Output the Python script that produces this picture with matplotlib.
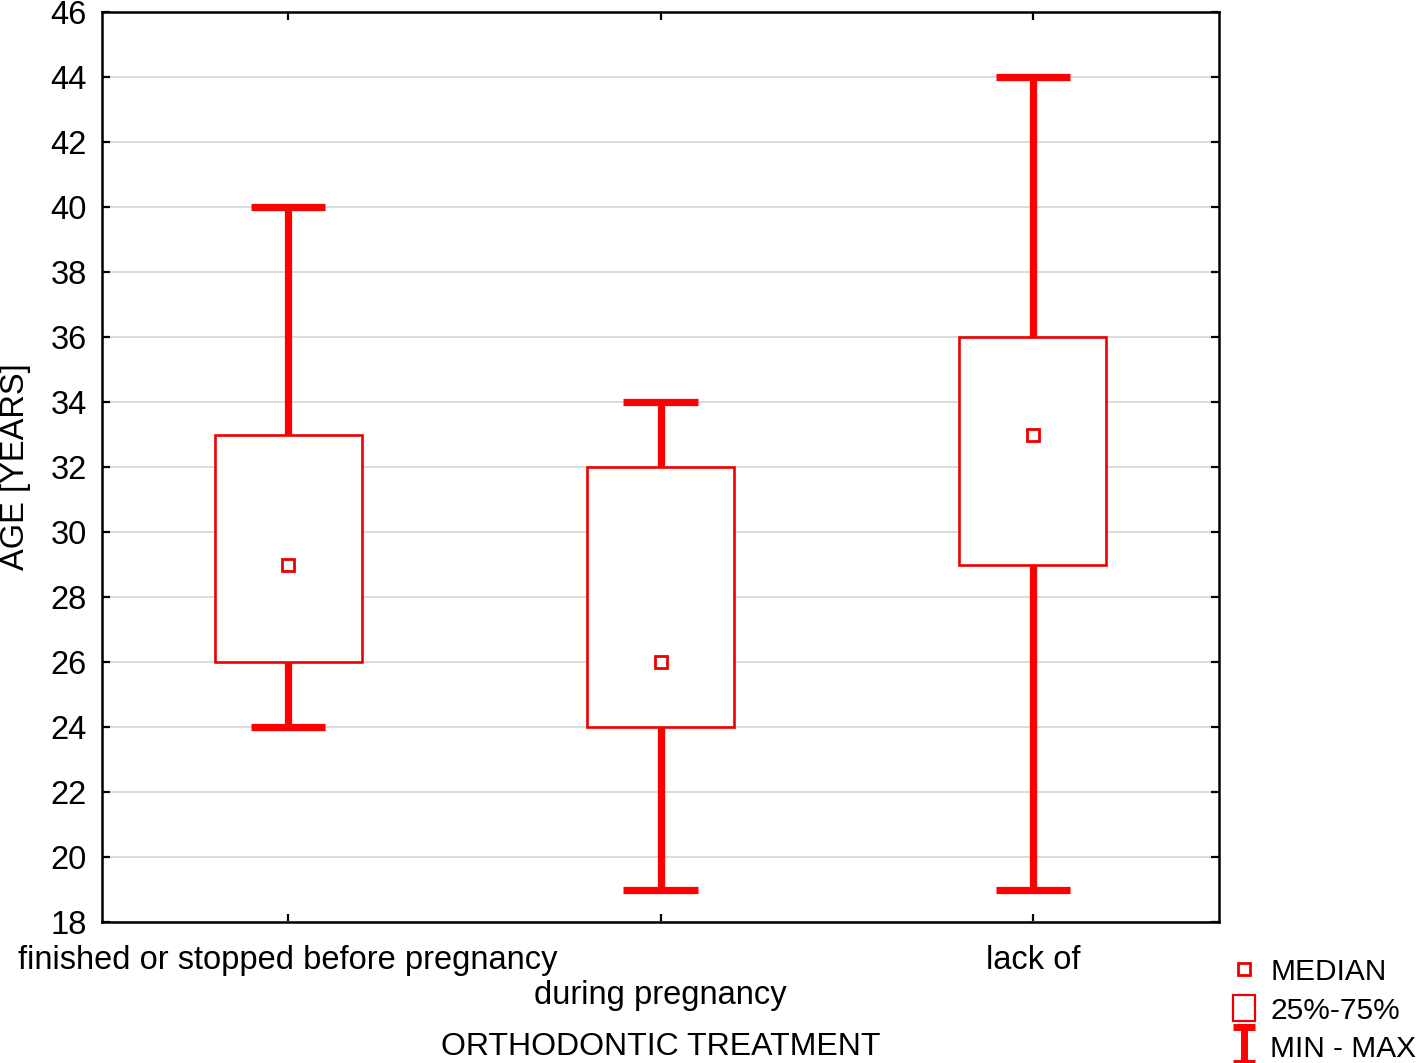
import matplotlib
matplotlib.use("Agg")
import matplotlib.pyplot as plt
from matplotlib.lines import Line2D
from matplotlib.patches import Patch
from matplotlib.path import Path

plt.rcParams['font.family'] = ['Liberation Sans', 'DejaVu Sans']

categories = ["finished or stopped before pregnancy", "during pregnancy", "lack of"]
mins = [24, 19, 19]
q1s = [26, 24, 29]
medians = [29, 26, 33]
q3s = [33, 32, 36]
maxs = [40, 34, 44]
yticks = list(range(18, 47, 2))

FS = 23.5

fig = plt.figure(figsize=(14.17, 10.63), dpi=100)
ax = fig.add_axes([102/1417, 1-922/1063, (1219-102)/1417, (922-12)/1063])

stats = []
for c, mn, a, m, b, mx in zip(categories, mins, q1s, medians, q3s, maxs):
    stats.append(dict(label=c, whislo=mn, q1=a, med=m, q3=b, whishi=mx, fliers=[]))

pos = [1, 2, 3]
ax.bxp(stats, positions=pos, widths=0.394, capwidths=0.2, patch_artist=True,
       showfliers=False,
       boxprops=dict(facecolor='white', edgecolor='#ee0000', linewidth=1.9),
       whiskerprops=dict(color='#ff0000', linewidth=5.2, solid_capstyle='butt'),
       capprops=dict(color='#ff0000', linewidth=5.2, solid_capstyle='butt'),
       medianprops=dict(linewidth=0), zorder=3)
ax.plot(pos, medians, ls='none', marker='s', ms=9, mfc='white', mec='#ee0000', mew=2, zorder=5)

ax.set_xlim(0.5, 3.5)
ax.set_ylim(18, 46)
ax.set_yticks(yticks)
ax.yaxis.grid(True, color='#d9d9d9', linewidth=1.3, zorder=0)
ax.set_axisbelow(True)
ax.set_xticks(pos)
ax.set_xticklabels([categories[0], "\n" + categories[1], categories[2]])
ax.tick_params(axis='both', direction='in', length=6, width=1.6, labelsize=FS,
               top=True, right=True, colors='black')
ax.tick_params(axis='x', pad=16.5)
ax.tick_params(axis='y', pad=11)
for lab in ax.get_xticklabels():
    lab.set_linespacing(1.15)
for s in ax.spines.values():
    s.set_linewidth(1.8)

ax.set_xlabel("ORTHODONTIC TREATMENT", fontsize=23)
ax.xaxis.set_label_coords(0.5, -0.121)
ax.set_ylabel("AGE [YEARS]", fontsize=FS)
ax.yaxis.set_label_coords(-0.064, 0.5)

ivert = [(-0.6, 1), (0.6, 1), (0, 1), (0, -1), (-0.6, -1), (0.6, -1)]
icodes = [Path.MOVETO, Path.LINETO, Path.MOVETO, Path.LINETO, Path.MOVETO, Path.LINETO]
ipath = Path(ivert, icodes)

handles = [
    Line2D([], [], ls='none', marker='s', ms=8, mfc='white', mec='#ee0000', mew=2),
    Patch(facecolor='white', edgecolor='#ee0000', linewidth=1.6),
    Line2D([], [], ls='none', marker=ipath, ms=26, mec='#ff0000', mew=5),
]
fig.legend(handles, ["MEDIAN", "25%-75%", "MIN - MAX"], loc='upper left',
           bbox_to_anchor=(1233/1417, 1-957/1063), frameon=False, fontsize=21.5,
           handlelength=0.74, handleheight=0.97, handletextpad=0.5, labelspacing=0.30,
           borderpad=0, borderaxespad=0)

fig.savefig("out.png", dpi=100)
